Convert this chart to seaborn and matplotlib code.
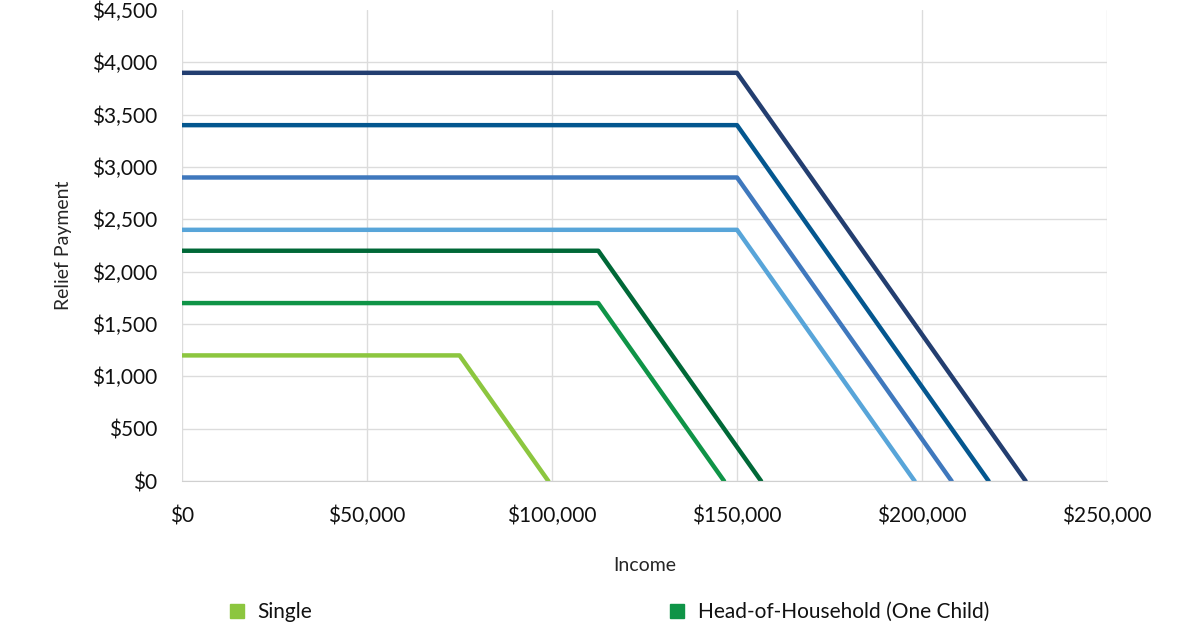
import matplotlib
matplotlib.use("Agg")
import matplotlib.pyplot as plt
import matplotlib.ticker as mticker
from matplotlib.lines import Line2D
import pandas as pd
import seaborn as sns

# relief payment schedules: income breakpoints and payment at each
labels = ["Single",
          "Head-of-Household (One Child)",
          "Head-of-Household (Two Children)",
          "Married (No Children)",
          "Married (One Child)",
          "Married (Two Children)",
          "Married (Three Children)"]
incomes = [[0, 75000, 99000],
           [0, 112500, 146500],
           [0, 112500, 156500],
           [0, 150000, 198000],
           [0, 150000, 208000],
           [0, 150000, 218000],
           [0, 150000, 228000]]
payments = [[1200, 1200, 0],
            [1700, 1700, 0],
            [2200, 2200, 0],
            [2400, 2400, 0],
            [2900, 2900, 0],
            [3400, 3400, 0],
            [3900, 3900, 0]]
colors = ["#8cc63f", "#0f9447", "#006837", "#58a5d9",
          "#3f78bd", "#04578f", "#233e70"]

rows = []
for lab, xs, ys in zip(labels, incomes, payments):
    for x, y in zip(xs, ys):
        rows.append({"Income": x, "Payment": y, "Group": lab})
df = pd.DataFrame(rows)

sns.set_style("white")
plt.rcParams["font.family"] = ["Lato", "DejaVu Sans"]
plt.rcParams["text.color"] = "#111111"
plt.rcParams["xtick.color"] = "#111111"
plt.rcParams["ytick.color"] = "#111111"

fig = plt.figure(figsize=(12, 6.3), dpi=100)
ax = fig.add_axes([0.1517, 0.2365, 0.7708, 0.7476])

sns.lineplot(data=df, x="Income", y="Payment", hue="Group",
             palette=dict(zip(labels, colors)), hue_order=labels,
             linewidth=3.2, sort=False, legend=False, ax=ax)

ax.set_xlim(0, 250000)
ax.set_ylim(0, 4500)
ax.set_xticks(range(0, 250001, 50000))
ax.set_yticks(range(0, 4501, 500))
ax.xaxis.set_major_formatter(mticker.FuncFormatter(lambda v, p: "${:,.0f}".format(v)))
ax.yaxis.set_major_formatter(mticker.FuncFormatter(lambda v, p: "${:,.0f}".format(v)))
ax.grid(True, color="#dcdcdc", linewidth=1)
ax.get_ygridlines()[-1].set_visible(False)
ax.set_axisbelow(True)
for side in ["top", "left", "right"]:
    ax.spines[side].set_visible(False)
ax.spines["bottom"].set_color("#d0d0d0")
ax.tick_params(axis="x", length=0, pad=18, labelsize=15)
ax.tick_params(axis="y", length=0, pad=18, labelsize=15)

ax.set_xlabel("Income", fontsize=14, labelpad=22)
ax.set_ylabel("Relief Payment", fontsize=14, labelpad=14)

handles = [Line2D([], [], marker="s", linestyle="", color=c, markersize=10)
           for c in colors[:2]]
fig.legend(handles, labels[:2], loc="upper left", bbox_to_anchor=(0.173, 0.058),
           ncol=2, frameon=False, fontsize=15, handletextpad=0.0,
           columnspacing=16.5, borderaxespad=0)

fig.savefig("out.png", dpi=100)
